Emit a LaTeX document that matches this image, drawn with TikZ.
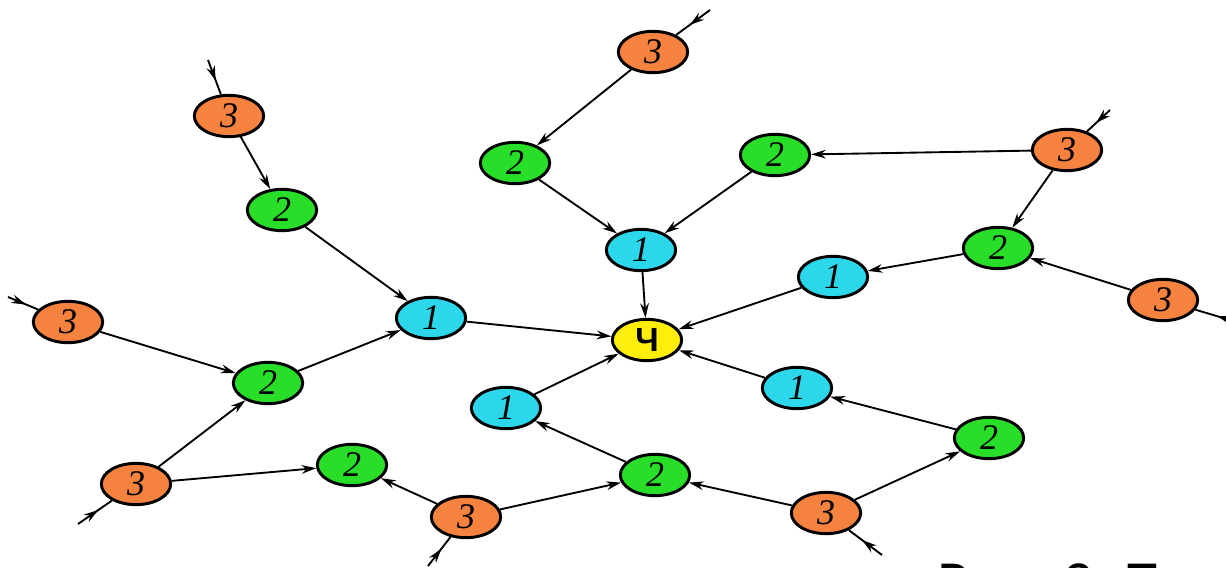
\documentclass[tikz,border=0pt]{standalone}
\usepackage{fontspec}
\setmainfont{Liberation Serif}
\newfontfamily\capfont{Carlito}
\newfontfamily\chfont{Liberation Sans}
\usetikzlibrary{shapes.geometric}
\usetikzlibrary{arrows.meta}
\usetikzlibrary{decorations.markings}

\definecolor{lvch}{RGB}{255,238,10}
\definecolor{lvone}{RGB}{45,215,235}
\definecolor{lvtwo}{RGB}{40,222,40}
\definecolor{lvthree}{RGB}{245,130,62}

\begin{document}
\begin{tikzpicture}[x=0.75pt, y=-0.75pt,
  every node/.style={ellipse, draw=black, line width=2.2pt, minimum width=52pt,
    minimum height=31pt, inner sep=0pt, font=\fontsize{27}{27}\selectfont\itshape},
  lvch/.style={fill=lvch, font=\fontsize{25}{25}\selectfont\chfont\bfseries},
  lvone/.style={fill=lvone},
  lvtwo/.style={fill=lvtwo},
  lvthree/.style={fill=lvthree},
  link/.style={-{Stealth[length=11pt,width=6.5pt]}, line width=1.4pt},
  feed/.style={line width=1.4pt, postaction={decorate},
    decoration={markings, mark=at position 0.6 with {\arrow{Stealth[length=11pt,width=6.5pt]}}}}]
  \useasboundingbox (0,0) rectangle (1226,567);
  \clip (0,0) rectangle (1226,567);

  \node[lvch] (ch) at (647,340) {Ч};
  % level 1
  \node[lvone] (a1) at (431,318) {1};
  \node[lvone] (a2) at (641,250) {1};
  \node[lvone] (a3) at (833,277) {1};
  \node[lvone] (a4) at (506,408) {1};
  \node[lvone] (a5) at (797,388) {1};
  % level 2
  \node[lvtwo] (b1) at (282,210) {2};
  \node[lvtwo] (b2) at (515,163) {2};
  \node[lvtwo] (b3) at (775,155) {2};
  \node[lvtwo] (b4) at (998,248) {2};
  \node[lvtwo] (b5) at (268,383) {2};
  \node[lvtwo] (b6) at (352,465) {2};
  \node[lvtwo] (b7) at (655,475) {2};
  \node[lvtwo] (b8) at (989,438) {2};
  % level 3
  \node[lvthree] (c1) at (229,116) {3};
  \node[lvthree] (c2) at (653,52) {3};
  \node[lvthree] (c3) at (1067,150) {3};
  \node[lvthree] (c4) at (1163,300) {3};
  \node[lvthree] (c5) at (68,322) {3};
  \node[lvthree] (c6) at (136,484) {3};
  \node[lvthree] (c7) at (466,517) {3};
  \node[lvthree] (c8) at (826,513) {3};

  % outer inputs
  \coordinate (f1) at (208,60);
  \coordinate (f2) at (710,10);
  \coordinate (f3) at (1110,110);
  \coordinate (f4) at (1250,326);
  \coordinate (f5) at (8,297);
  \coordinate (f6) at (78,524);
  \coordinate (f7) at (428,566);
  \coordinate (f8) at (882,555);

  \foreach \i in {1,...,8}
    \draw[feed] (f\i) -- (c\i);

  \foreach \from/\to in {a1/ch, a2/ch, a3/ch, a4/ch, a5/ch,
      b1/a1, b5/a1, b2/a2, b3/a2, b4/a3, b7/a4, b8/a5,
      c1/b1, c2/b2, c3/b3, c3/b4, c4/b4, c5/b5, c6/b5,
      c6/b6, c7/b6, c7/b7, c8/b7, c8/b8}
    \draw[link] (\from) -- (\to);

  \node[draw=none, shape=rectangle, inner sep=0pt, anchor=base west,
    font=\capfont\fontsize{46}{46}\selectfont] (cap) at (936,603) {Рис. 3.\hspace{14pt}Т};
\end{tikzpicture}
\end{document}
